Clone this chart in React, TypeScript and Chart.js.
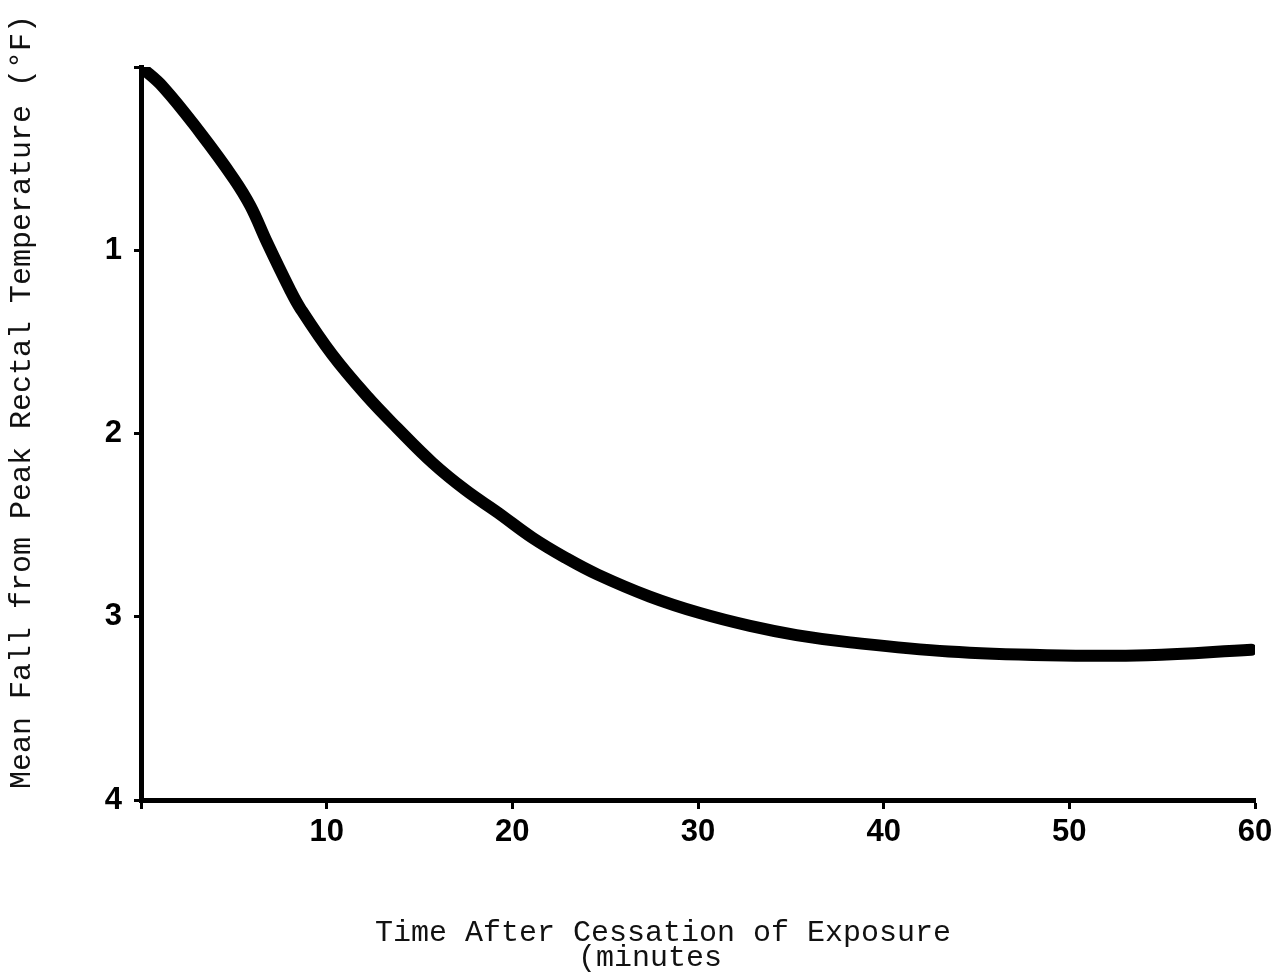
import React, { useEffect, useRef } from "react";
import { Chart, registerables } from "chart.js";

Chart.register(...registerables);

const minutes = [0, 1.2, 3.2, 5.0, 5.9, 6.8, 8.0, 8.6, 10.3, 12.2, 13.8, 15.7, 17.5, 19.2, 21.1, 22.9, 24.6, 27.4, 30.1, 32.8, 35.3, 38.2, 43.5, 48.8, 54.2, 59.8];
const meanFall = [0, 0.11, 0.36, 0.61, 0.76, 0.96, 1.21, 1.32, 1.57, 1.80, 1.97, 2.16, 2.31, 2.43, 2.57, 2.68, 2.77, 2.89, 2.98, 3.05, 3.10, 3.14, 3.19, 3.21, 3.21, 3.18];
const xTickValues = [0, 10, 20, 30, 40, 50, 60];
const yTickValues = [0, 1, 2, 3, 4];
const yTitle = "Mean Fall from Peak Rectal Temperature (°F)";
const xTitleLines = ["Time After Cessation of Exposure", "(minutes"];

const tickFont = "'Liberation Sans Narrow', 'Liberation Sans', Arial, sans-serif";
const monoFont = "'Liberation Mono', 'DejaVu Sans Mono', monospace";

const titlesPlugin = {
  id: "titlesPlugin",
  afterDraw(chart: any) {
    const ctx = chart.ctx;
    ctx.save();
    ctx.fillStyle = "#111";
    ctx.textAlign = "center";
    ctx.textBaseline = "middle";
    ctx.font = `30px ${monoFont}`;
    ctx.translate(22, 402);
    ctx.rotate(-Math.PI / 2);
    ctx.fillText(yTitle, 0, 0);
    ctx.restore();

    ctx.save();
    ctx.fillStyle = "#111";
    ctx.textAlign = "center";
    ctx.textBaseline = "middle";
    ctx.font = `30px ${monoFont}`;
    ctx.fillText(xTitleLines[0], 663, 933);
    ctx.fillText(xTitleLines[1], 650, 958);
    ctx.restore();
  },
};

export default function App() {
  const ref = useRef<HTMLCanvasElement | null>(null);

  useEffect(() => {
    if (!ref.current) return;
    const chart = new Chart(ref.current, {
      type: "line",
      data: {
        datasets: [
          {
            data: minutes.map((m, i) => ({ x: m, y: meanFall[i] })),
            borderColor: "#000",
            borderWidth: 12,
            borderCapStyle: "round",
            borderJoinStyle: "round",
            pointRadius: 0,
            tension: 0.4,
            fill: false,
          },
        ],
      },
      options: {
        responsive: false,
        animation: false,
        layout: { padding: { left: 0, top: 67, right: 17, bottom: 0 } },
        plugins: { legend: { display: false }, tooltip: { enabled: false }, title: { display: false } },
        scales: {
          x: {
            type: "linear",
            min: 0,
            max: 60,
            afterBuildTicks: (scale: any) => {
              scale.ticks = xTickValues.map((v) => ({ value: v }));
            },
            afterFit: (scale: any) => {
              scale.height = 180;
              scale.paddingLeft = 0;
              scale.paddingRight = 0;
            },
            ticks: {
              color: "#000",
              padding: 5,
              maxRotation: 0,
              autoSkip: false,
              font: { family: tickFont, size: 31, weight: "bold" },
              callback: (v: any) => (v === 0 ? "" : String(v)),
            },
            grid: { drawOnChartArea: false, drawTicks: true, tickLength: 9, tickColor: "#000", tickWidth: 3 },
            border: { color: "#000", width: 5 },
          },
          y: {
            type: "linear",
            reverse: true,
            min: 0,
            max: 4,
            afterBuildTicks: (scale: any) => {
              scale.ticks = yTickValues.map((v) => ({ value: v }));
            },
            afterFit: (scale: any) => {
              scale.width = 141;
              scale.paddingTop = 0;
              scale.paddingBottom = 0;
            },
            ticks: {
              color: "#000",
              padding: 12,
              autoSkip: false,
              font: { family: tickFont, size: 31, weight: "bold" },
              callback: (v: any) => (v === 0 ? "" : String(v)),
            },
            grid: { drawOnChartArea: false, drawTicks: true, tickLength: 7, tickColor: "#000", tickWidth: 3 },
            border: { color: "#000", width: 5 },
          },
        },
      },
      plugins: [titlesPlugin],
    } as any);
    return () => chart.destroy();
  }, []);

  return (
    <div style={{ position: "absolute", left: 0, top: 0, width: 1272, height: 980, background: "#fff" }}>
      <canvas ref={ref} width={1272} height={980} style={{ display: "block" }} />
    </div>
  );
}
